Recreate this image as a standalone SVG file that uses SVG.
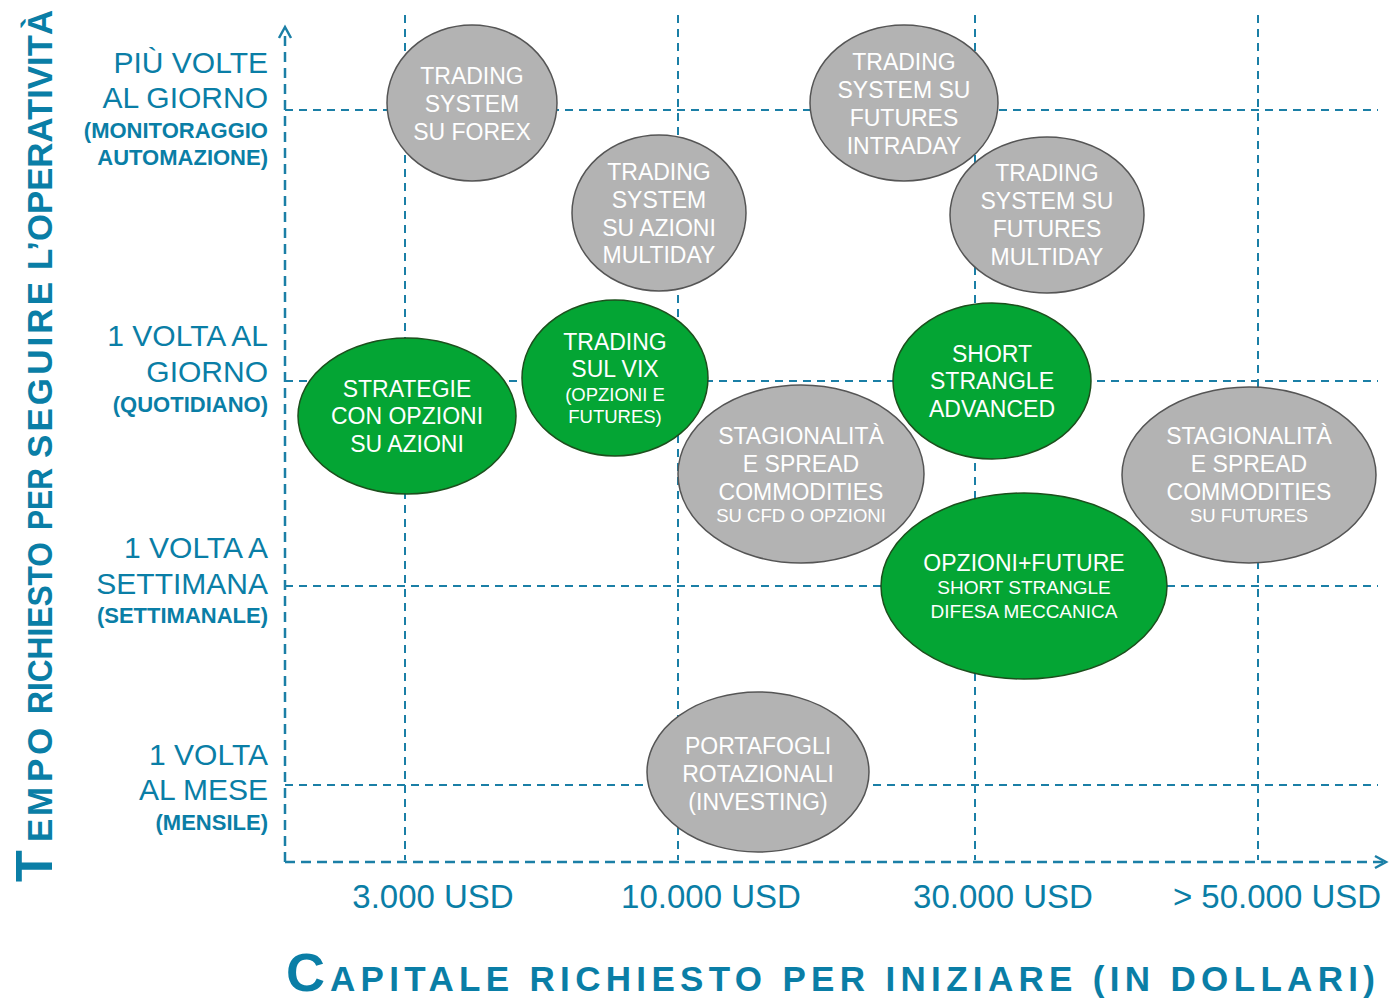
<svg xmlns="http://www.w3.org/2000/svg" width="1400" height="1008" viewBox="0 0 1400 1008">
<style>
.grid{stroke:#1b7fa6;stroke-width:2;stroke-dasharray:8 6;fill:none}
.axis{stroke:#1b7fa6;stroke-width:2.5;stroke-dasharray:10 6;fill:none}
.arr{stroke:#1b7fa6;stroke-width:2.5;fill:none}
.gray{fill:#b3b3b3;stroke:#555;stroke-width:1.5}
.green{fill:#04a534;stroke:#1d4f1d;stroke-width:1.5}
.t{font-family:"Liberation Sans",Arial,sans-serif;fill:#fff;text-anchor:middle;font-size:23px}
.s{font-size:18.5px}
.lab{font-family:"Liberation Sans",Arial,sans-serif;fill:#0a7ea6;text-anchor:end;font-size:30px}
.lb{font-weight:bold;font-size:22px}
.xl{font-family:"Liberation Sans",Arial,sans-serif;fill:#0a7ea6;text-anchor:middle;font-size:33px}
.ttl{font-family:"Liberation Sans",Arial,sans-serif;fill:#0a7ea6;font-weight:bold}
</style>
<rect width="1400" height="1008" fill="#fff"/>
<g id="grid">
<line class="grid" x1="405" y1="15" x2="405" y2="860"/>
<line class="grid" x1="678" y1="15" x2="678" y2="860"/>
<line class="grid" x1="975" y1="15" x2="975" y2="860"/>
<line class="grid" x1="1258" y1="15" x2="1258" y2="860"/>
<line class="grid" x1="285" y1="110" x2="1378" y2="110"/>
<line class="grid" x1="285" y1="381" x2="1378" y2="381"/>
<line class="grid" x1="285" y1="586" x2="1378" y2="586"/>
<line class="grid" x1="285" y1="785" x2="1378" y2="785"/>
</g>
<g id="axes">
<line class="axis" x1="285" y1="862" x2="285" y2="30"/>
<line class="axis" x1="285" y1="862" x2="1383" y2="862"/>
<polyline class="arr" points="279,38 285,27 291,38"/>
<polyline class="arr" points="1375,856 1386,862 1375,868"/>
</g>
<g id="n7"><ellipse class="gray" cx="801" cy="474" rx="123" ry="89"/>
<text class="t"><tspan x="801" y="444">STAGIONALITÀ</tspan><tspan x="801" y="472">E SPREAD</tspan><tspan x="801" y="500">COMMODITIES</tspan><tspan class="s" x="801" y="522">SU CFD O OPZIONI</tspan></text></g>
<g id="n9"><ellipse class="gray" cx="1249" cy="475" rx="127" ry="88"/>
<text class="t"><tspan x="1249" y="444">STAGIONALITÀ</tspan><tspan x="1249" y="472">E SPREAD</tspan><tspan x="1249" y="500">COMMODITIES</tspan><tspan class="s" x="1249" y="522">SU FUTURES</tspan></text></g>
<g id="n1"><ellipse class="gray" cx="472" cy="103" rx="85" ry="78"/>
<text class="t"><tspan x="472" y="84">TRADING</tspan><tspan x="472" y="112">SYSTEM</tspan><tspan x="472" y="140">SU FOREX</tspan></text></g>
<g id="n2"><ellipse class="gray" cx="904" cy="103" rx="94" ry="78"/>
<text class="t"><tspan x="904" y="70">TRADING</tspan><tspan x="904" y="98">SYSTEM SU</tspan><tspan x="904" y="126">FUTURES</tspan><tspan x="904" y="154">INTRADAY</tspan></text></g>
<g id="n3"><ellipse class="gray" cx="659" cy="213" rx="87" ry="78"/>
<text class="t"><tspan x="659" y="180">TRADING</tspan><tspan x="659" y="208">SYSTEM</tspan><tspan x="659" y="236">SU AZIONI</tspan><tspan x="659" y="263">MULTIDAY</tspan></text></g>
<g id="n4"><ellipse class="gray" cx="1047" cy="215" rx="97" ry="78"/>
<text class="t"><tspan x="1047" y="181">TRADING</tspan><tspan x="1047" y="209">SYSTEM SU</tspan><tspan x="1047" y="237">FUTURES</tspan><tspan x="1047" y="265">MULTIDAY</tspan></text></g>
<g id="n11"><ellipse class="gray" cx="758" cy="772" rx="111" ry="80"/>
<text class="t"><tspan x="758" y="754">PORTAFOGLI</tspan><tspan x="758" y="782">ROTAZIONALI</tspan><tspan x="758" y="810">(INVESTING)</tspan></text></g>
<g id="n5"><ellipse class="green" cx="407" cy="416" rx="109" ry="78"/>
<text class="t"><tspan x="407" y="397">STRATEGIE</tspan><tspan x="407" y="424">CON OPZIONI</tspan><tspan x="407" y="452">SU AZIONI</tspan></text></g>
<g id="n6"><ellipse class="green" cx="615" cy="378" rx="93" ry="78"/>
<text class="t"><tspan x="615" y="350">TRADING</tspan><tspan x="615" y="377">SUL VIX</tspan><tspan class="s" x="615" y="401">(OPZIONI E</tspan><tspan class="s" x="615" y="423">FUTURES)</tspan></text></g>
<g id="n8"><ellipse class="green" cx="992" cy="381" rx="99" ry="78"/>
<text class="t"><tspan x="992" y="362">SHORT</tspan><tspan x="992" y="389">STRANGLE</tspan><tspan x="992" y="417">ADVANCED</tspan></text></g>
<g id="n10"><ellipse class="green" cx="1024" cy="586" rx="143" ry="93"/>
<text class="t"><tspan x="1024" y="571">OPZIONI+FUTURE</tspan><tspan class="s" x="1024" y="594" style="font-size:19px">SHORT STRANGLE</tspan><tspan class="s" x="1024" y="618" style="font-size:19px">DIFESA MECCANICA</tspan></text></g>
<g id="ylabels">
<text class="lab"><tspan x="268" y="73">PIÙ VOLTE</tspan><tspan x="268" y="108">AL GIORNO</tspan><tspan class="lb" x="268" y="138">(MONITORAGGIO</tspan><tspan class="lb" x="268" y="165">AUTOMAZIONE)</tspan></text>
<text class="lab"><tspan x="268" y="346">1 VOLTA AL</tspan><tspan x="268" y="382">GIORNO</tspan><tspan class="lb" x="268" y="412">(QUOTIDIANO)</tspan></text>
<text class="lab"><tspan x="268" y="558">1 VOLTA A</tspan><tspan x="268" y="594">SETTIMANA</tspan><tspan class="lb" x="268" y="623">(SETTIMANALE)</tspan></text>
<text class="lab"><tspan x="268" y="765">1 VOLTA</tspan><tspan x="268" y="800">AL MESE</tspan><tspan class="lb" x="268" y="830">(MENSILE)</tspan></text>
</g>
<g id="xlabels">
<text class="xl" x="433" y="908">3.000 USD</text>
<text class="xl" x="711" y="908">10.000 USD</text>
<text class="xl" x="1003" y="908">30.000 USD</text>
<text class="xl" x="1277" y="908">&gt; 50.000 USD</text>
</g>
<g id="ytitle" transform="translate(52,882) rotate(-90)">
<text class="ttl"><tspan x="0" y="0" style="font-size:52px">T</tspan><tspan x="40 66 100 127" y="0" style="font-size:35px">EMPO</tspan><tspan x="168" y="0" style="font-size:35px" textLength="172" lengthAdjust="spacingAndGlyphs">RICHIESTO</tspan><tspan x="352" y="0" style="font-size:35px" textLength="62" lengthAdjust="spacingAndGlyphs">PER</tspan><tspan x="424" y="0" style="font-size:35px" textLength="176" lengthAdjust="spacing">SEGUIRE</tspan><tspan x="612" y="0" style="font-size:35px" textLength="260" lengthAdjust="spacingAndGlyphs">L’OPERATIVITÀ</tspan></text>
</g>
<g id="xtitle">
<text class="ttl" y="991"><tspan x="286" style="font-size:54px">C</tspan><tspan x="330" style="font-size:35px" textLength="1045" lengthAdjust="spacing">APITALE RICHIESTO PER INIZIARE (IN DOLLARI)</tspan></text>
</g>
</svg>
